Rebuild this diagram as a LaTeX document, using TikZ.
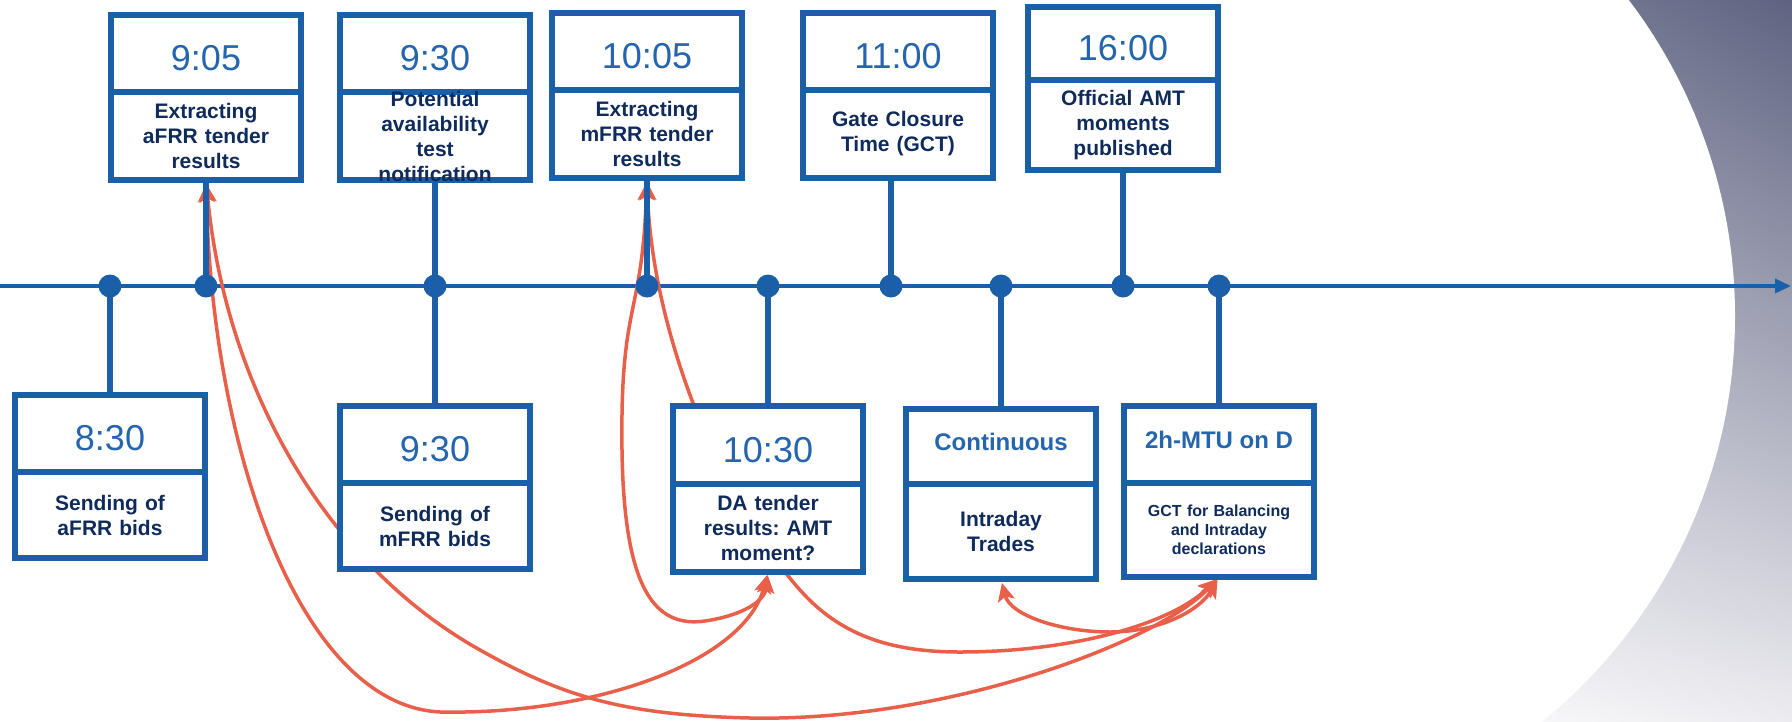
\documentclass[tikz,border=0pt]{standalone}
\usepackage{fontspec}
\setmainfont{Liberation Sans}
\frenchspacing
\usetikzlibrary{arrows.meta, positioning, shadings}

\definecolor{boxblue}{HTML}{1B5FA8}
\definecolor{timeblue}{HTML}{2465AE}
\definecolor{navytext}{HTML}{0F2B5B}
\definecolor{linkred}{HTML}{E8604A}
\definecolor{bgdark}{RGB}{95,99,129}
\definecolor{bgmid}{RGB}{122,125,150}
\definecolor{bglight}{RGB}{247,247,249}
\definecolor{bgpale}{RGB}{236,236,240}

\pgfdeclarelayer{back}
\pgfdeclarelayer{links}
\pgfdeclarelayer{stems}
\pgfsetlayers{back,links,stems,main}

\tikzstyle{headcell} = [rectangle, draw=boxblue, line width=5.5pt, fill=white, minimum width=190pt, minimum height=77pt, inner sep=0pt, outer sep=0pt, text=timeblue, text height=34pt, text depth=0pt, font=\fontsize{36}{40}\selectfont]
\tikzstyle{headword} = [headcell, text height=17pt, text depth=9pt, font=\bfseries\fontsize{24}{28}\selectfont]
\tikzstyle{desccell} = [rectangle, draw=boxblue, line width=5.5pt, fill=white, minimum width=190pt, minimum height=88pt, inner sep=0pt, outer sep=0pt, text width=184pt, align=center, text=navytext, font=\bfseries\fontsize{21}{25}\selectfont]
\tikzstyle{desclabel} = [inner sep=0pt, text width=184pt, align=center, text=navytext, font=\bfseries\fontsize{21}{25}\selectfont]
\tikzstyle{tick} = [circle, fill=boxblue, inner sep=0pt, outer sep=0pt, minimum size=23pt]
\tikzstyle{stem} = [draw=boxblue, line width=5.5pt]
\tikzstyle{axis} = [draw=boxblue, line width=3.5pt, -{Triangle[length=16pt,width=14pt]}]
\tikzstyle{link} = [draw=linkred, line width=3.5pt, <->, >={Stealth[length=18pt,width=17pt,inset=4pt]}, shorten <=4pt, shorten >=3pt]

\begin{document}
\begin{tikzpicture}[x=1pt, y=-1pt]
\useasboundingbox (0,0) rectangle (1792,721);

% Background
\begin{pgfonlayer}{back}
\begin{scope}
\clip (0,0) rectangle (1792,721);
\shade [upper left=bgmid, upper right=bgdark, lower left=bglight, lower right=bgpale] (1540,0) rectangle (1792,721);
\fill [white] (1212,316) circle (523pt);
\end{scope}
\coordinate (t0) at (0,286);
\coordinate (t1) at (1791,286);
\draw [axis] (t0) -- (t1);
\end{pgfonlayer}

% Timeline points
\node (d830) [tick] at (110,286) {};
\node (d905) [tick] at (206,286) {};
\node (d930) [tick] at (435,286) {};
\node (d1005) [tick] at (647,286) {};
\node (d1030) [tick] at (768,286) {};
\node (d1100) [tick] at (891,286) {};
\node (dcont) [tick] at (1001,286) {};
\node (d1600) [tick] at (1123,286) {};
\node (dmtu) [tick] at (1219,286) {};

% Upper boxes
\node (h905) [headcell, above=182.5pt of d905] {9:05};
\node (t905) [desccell, below=0pt of h905] {Extracting\\aFRR tender\\results};
\node (h930a) [headcell, above=182.5pt of d930] {9:30};
\node (t930a) [desccell, below=0pt of h930a, label={[desclabel]center:{Potential\\availability\\test\\notification}}] {};
\node (h1005) [headcell, above=184.5pt of d1005] {10:05};
\node (t1005) [desccell, below=0pt of h1005] {Extracting\\mFRR tender\\results};
\node (h1100) [headcell, above=184.5pt of d1100, xshift=7pt] {11:00};
\node (t1100) [desccell, below=0pt of h1100] {Gate Closure\\Time (GCT)};
\node (h1600) [headcell, minimum height=73pt, above=194.5pt of d1600] {16:00};
\node (t1600) [desccell, minimum height=90pt, below=0pt of h1600] {Official AMT\\moments\\published};

% Lower boxes
\node (h830) [headcell, below=97.5pt of d830] {8:30};
\node (t830) [desccell, minimum height=86pt, below=0pt of h830] {Sending of\\aFRR bids};
\node (h930b) [headcell, below=108.5pt of d930] {9:30};
\node (t930b) [desccell, minimum height=86pt, below=0pt of h930b] {Sending of\\mFRR bids};
\node (h1030) [headcell, minimum height=78pt, below=108.5pt of d1030] {10:30};
\node (t1030) [desccell, below=0pt of h1030] {DA tender\\results: AMT\\moment?};
\node (hcont) [headword, minimum height=75pt, below=111.5pt of dcont] {Continuous};
\node (tcont) [desccell, minimum height=95pt, below=0pt of hcont] {Intraday\\Trades};
\node (hmtu) [headword, below=108.5pt of dmtu] {2h-MTU on D};
\node (tmtu) [desccell, minimum height=94pt, below=0pt of hmtu, font=\bfseries\fontsize{16}{19}\selectfont] {GCT for Balancing\\and Intraday\\declarations};

% Stems
\begin{pgfonlayer}{stems}
\draw [stem] (t905.south) -- (d905.center);
\draw [stem] (t930a.south) -- (h930b.north);
\draw [stem] (t1005.south) -- (d1005.center);
\draw [stem] (t1100.south -| d1100) -- (d1100.center);
\draw [stem] (t1600.south) -- (d1600.center);
\draw [stem] (d830.center) -- (h830.north);
\draw [stem] (d1030.center) -- (h1030.north);
\draw [stem] (dcont.center) -- (hcont.north);
\draw [stem] (dmtu.center) -- (hmtu.north);
\end{pgfonlayer}

% Links
\begin{pgfonlayer}{links}
\draw [link] (t905.south) .. controls (212,450) and (300,705) .. (440,712) .. controls (600,715) and (745,660) .. (t1030.south);
\draw [link] (t905.south) .. controls (225,380) and (320,560) .. (480,650) .. controls (560,695) and (620,715) .. (750,718) .. controls (950,722) and (1160,640) .. (tmtu.south);
\draw [link] (t1005.south) .. controls (642,320) and (620,300) .. (622,450) .. controls (624,590) and (655,628) .. (705,621) .. controls (745,615) and (765,600) .. (t1030.south);
\draw [link] (t1005.south) .. controls (652,330) and (720,500) .. (800,590) .. controls (840,635) and (890,652) .. (960,652) .. controls (1070,652) and (1170,625) .. (tmtu.south);
\draw [link] (tcont.south) .. controls (1010,615) and (1060,632) .. (1110,632) .. controls (1160,632) and (1200,610) .. (tmtu.south);
\end{pgfonlayer}

\end{tikzpicture}
\end{document}
